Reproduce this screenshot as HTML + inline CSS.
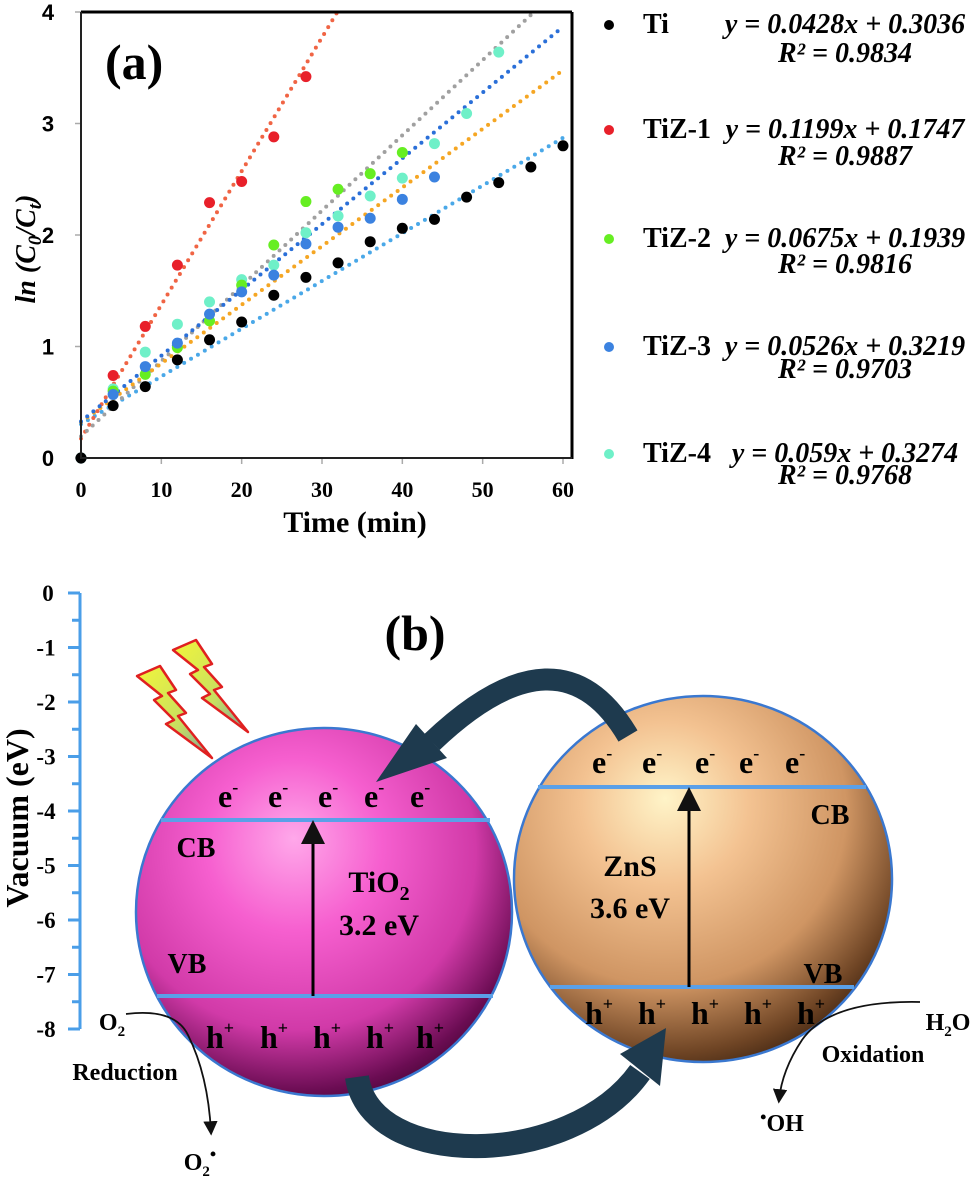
<!DOCTYPE html>
<html><head><meta charset="utf-8"><style>
html,body{margin:0;padding:0;background:#fff;}
svg{display:block;}
text{font-family:"Liberation Serif",serif;font-weight:bold;}
</style></head><body>
<svg id="fig" width="978" height="1177" viewBox="0 0 978 1177" xmlns="http://www.w3.org/2000/svg">
<defs>
<radialGradient id="pinkG" cx="0.42" cy="0.36" r="0.78" fx="0.42" fy="0.3">
<stop offset="0" stop-color="#ffa8ea"/><stop offset="0.3" stop-color="#f65fcf"/><stop offset="0.62" stop-color="#d13aa8"/><stop offset="0.82" stop-color="#6a0c52"/><stop offset="1" stop-color="#1a0012"/></radialGradient>
<radialGradient id="orG" cx="0.4" cy="0.33" r="0.8" fx="0.4" fy="0.28">
<stop offset="0" stop-color="#fff4c8"/><stop offset="0.28" stop-color="#f3c291"/><stop offset="0.6" stop-color="#cf9563"/><stop offset="0.82" stop-color="#6e4424"/><stop offset="1" stop-color="#150800"/></radialGradient>
<linearGradient id="boltG" x1="0" y1="0" x2="1" y2="1"><stop offset="0" stop-color="#f2f53a"/><stop offset="0.6" stop-color="#c8e060"/><stop offset="1" stop-color="#7aa0a0"/></linearGradient>
<marker id="ah" markerWidth="8" markerHeight="8" refX="6" refY="4" orient="auto"><path d="M0,0 L8,4 L0,8 z" fill="#111"/></marker>
</defs>

<!-- Panel (a) -->
<g id="panelA">
<rect x="81" y="12" width="491" height="446" fill="#fff" stroke="none"/>
<g id="yTicks"></g>
<g id="xTicks"></g>
<g id="trends"></g>
<g id="pts"></g>
<line x1="81" y1="12" x2="572" y2="12" stroke="#000" stroke-width="3"/>
<line x1="572" y1="12" x2="572" y2="459" stroke="#000" stroke-width="3"/>
<line x1="81" y1="12" x2="81" y2="459" stroke="#222" stroke-width="2"/>
<line x1="80" y1="458" x2="572" y2="458" stroke="#222" stroke-width="2"/>
<text x="105" y="79" font-size="50">(a)</text>
<text transform="translate(35,249) rotate(-90)" text-anchor="middle" font-size="28" font-style="italic">ln (C<tspan font-size="19" dy="6">0</tspan><tspan dy="-6">/C</tspan><tspan font-size="19" dy="6">t</tspan><tspan dy="-6">)</tspan></text>
<text x="355" y="532" text-anchor="middle" font-size="30">Time (min)</text>
<g id="legend"></g>
</g>

<!-- Panel (b) -->
<g id="panelB">
<g id="vacAxis"></g>
<text transform="translate(28,818) rotate(-90)" text-anchor="middle" font-size="32">Vacuum (eV)</text>
<text x="415" y="650" text-anchor="middle" font-size="50">(b)</text>

<g>
<polygon points="137,676 160,666 176,690 168,693 186,713 178,716 212,758 166,724 174,720 154,700 162,696" fill="url(#boltG)" stroke="#e02020" stroke-width="2.5" stroke-linejoin="round"/></g>
<g transform="translate(36,-26)">
<polygon points="137,676 160,666 176,690 168,693 186,713 178,716 212,758 166,724 174,720 154,700 162,696" fill="url(#boltG)" stroke="#e02020" stroke-width="2.5" stroke-linejoin="round"/></g>

<ellipse cx="703" cy="879" rx="189" ry="183" fill="url(#orG)" stroke="#3a78d0" stroke-width="2.5"/>
<ellipse cx="324" cy="912" rx="188" ry="184" fill="url(#pinkG)" stroke="#3a78d0" stroke-width="2.5"/>

<line x1="161" y1="820" x2="490" y2="820" stroke="#5aa0e8" stroke-width="4"/>
<line x1="157" y1="996" x2="493" y2="996" stroke="#5aa0e8" stroke-width="4"/>
<line x1="538" y1="787" x2="866" y2="787" stroke="#5aa0e8" stroke-width="4"/>
<line x1="550" y1="987" x2="854" y2="987" stroke="#5aa0e8" stroke-width="4"/>

<line x1="313" y1="996" x2="313" y2="826" stroke="#000" stroke-width="3" marker-end="url(#ah)"/>
<line x1="689" y1="987" x2="689" y2="793" stroke="#000" stroke-width="3" marker-end="url(#ah)"/>

<g font-size="32">
<text x="218" y="807">e<tspan font-size="18" dy="-14">-</tspan></text>
<text x="268" y="807">e<tspan font-size="18" dy="-14">-</tspan></text>
<text x="318" y="807">e<tspan font-size="18" dy="-14">-</tspan></text>
<text x="364" y="807">e<tspan font-size="18" dy="-14">-</tspan></text>
<text x="410" y="807">e<tspan font-size="18" dy="-14">-</tspan></text>
</g>
<g font-size="32">
<text x="592" y="773">e<tspan font-size="18" dy="-14">-</tspan></text>
<text x="642" y="773">e<tspan font-size="18" dy="-14">-</tspan></text>
<text x="695" y="773">e<tspan font-size="18" dy="-14">-</tspan></text>
<text x="739" y="773">e<tspan font-size="18" dy="-14">-</tspan></text>
<text x="785" y="773">e<tspan font-size="18" dy="-14">-</tspan></text>
</g>
<g font-size="32">
<text x="206" y="1048">h<tspan font-size="18" dy="-14">+</tspan></text>
<text x="260" y="1048">h<tspan font-size="18" dy="-14">+</tspan></text>
<text x="313" y="1048">h<tspan font-size="18" dy="-14">+</tspan></text>
<text x="366" y="1048">h<tspan font-size="18" dy="-14">+</tspan></text>
<text x="416" y="1048">h<tspan font-size="18" dy="-14">+</tspan></text>
</g>
<g font-size="32">
<text x="585" y="1024">h<tspan font-size="18" dy="-14">+</tspan></text>
<text x="638" y="1024">h<tspan font-size="18" dy="-14">+</tspan></text>
<text x="691" y="1024">h<tspan font-size="18" dy="-14">+</tspan></text>
<text x="744" y="1024">h<tspan font-size="18" dy="-14">+</tspan></text>
<text x="797" y="1024">h<tspan font-size="18" dy="-14">+</tspan></text>
</g>

<text x="196" y="857" text-anchor="middle" font-size="28">CB</text>
<text x="187" y="973" text-anchor="middle" font-size="28">VB</text>
<text x="379" y="892" text-anchor="middle" font-size="30">TiO<tspan font-size="20" dy="8">2</tspan></text>
<text x="379" y="935" text-anchor="middle" font-size="30">3.2 eV</text>
<text x="630" y="876" text-anchor="middle" font-size="30">ZnS</text>
<text x="630" y="918" text-anchor="middle" font-size="30">3.6 eV</text>
<text x="830" y="824" text-anchor="middle" font-size="28">CB</text>
<text x="823" y="983" text-anchor="middle" font-size="28">VB</text>

<g fill="#1e3a4e">
<path d="M 628 736 Q 560 620 432 742" fill="none" stroke="#1e3a4e" stroke-width="22"/>
<polygon points="447,758 416,724 376,782"/>
</g>
<g fill="#1e3a4e">
<path d="M 357 1077 C 370 1170 570 1170 640 1072" fill="none" stroke="#1e3a4e" stroke-width="24"/>
<polygon points="660,1086 620,1054 666,1028"/>
</g>

<text x="112" y="1030" text-anchor="middle" font-size="24">O<tspan font-size="15" dy="6">2</tspan></text>
<path d="M 126 1014 Q 175 1008 188 1035 Q 208 1075 211 1132" fill="none" stroke="#111" stroke-width="1.8" marker-end="url(#ah)"/>
<text x="125" y="1080" text-anchor="middle" font-size="24">Reduction</text>
<text x="200" y="1170" text-anchor="middle" font-size="24">O<tspan font-size="15" dy="6">2</tspan><tspan dy="-16" font-size="18">•</tspan></text>
<text x="948" y="1030" text-anchor="middle" font-size="24">H<tspan font-size="15" dy="6">2</tspan><tspan dy="-6">O</tspan></text>
<path d="M 920 1002 Q 830 1000 802 1040 Q 782 1070 779 1100" fill="none" stroke="#111" stroke-width="1.8" marker-end="url(#ah)"/>
<text x="873" y="1062" text-anchor="middle" font-size="24">Oxidation</text>
<text x="782" y="1131" text-anchor="middle" font-size="24"><tspan font-size="18" dy="-8">•</tspan><tspan dy="8">OH</tspan></text>
</g>

<script>
// ---------- Panel (a) data ----------
const times = [0,4,8,12,16,20,24,28,32,36,40,44,48,52,56,60];
const seriesNames = ["Ti","TiZ-1","TiZ-2","TiZ-3","TiZ-4"];
const tiValues   = [0,0.47,0.64,0.88,1.06,1.22,1.46,1.62,1.75,1.94,2.06,2.14,2.34,2.47,2.61,2.80];
const tiz1Values = [0,0.74,1.18,1.73,2.29,2.48,2.88,3.42];
const tiz2Values = [0,0.60,0.75,0.99,1.23,1.55,1.91,2.30,2.41,2.55,2.74];
const tiz3Values = [0,0.57,0.82,1.03,1.29,1.49,1.64,1.92,2.07,2.15,2.32,2.52];
const tiz4Values = [0,0.62,0.95,1.20,1.40,1.60,1.73,2.02,2.17,2.35,2.51,2.82,3.09,3.64];
const slopes     = [0.0428,0.1199,0.0675,0.0526,0.059];
const intercepts = [0.3036,0.1747,0.1939,0.3219,0.3274];
const r2Labels   = ["0.9834","0.9887","0.9816","0.9703","0.9768"];
const eqLabels   = ["y = 0.0428x + 0.3036","y = 0.1199x + 0.1747","y = 0.0675x + 0.1939","y = 0.0526x + 0.3219","y = 0.059x + 0.3274"];
const xTickLabels = [0,10,20,30,40,50,60];
const yTickLabels = [0,1,2,3,4];
const vacTickLabels = [0,-1,-2,-3,-4,-5,-6,-7,-8];

const NS = "http://www.w3.org/2000/svg";
const X0=81, X1=563, Y0=458, Y1=12;
function sx(t){ return X0 + (t/60)*(X1-X0); }
function sy(v){ return Y0 - (v/4)*(Y0-Y1); }
function mk(tag, attrs, parent){ const e=document.createElementNS(NS,tag); for(const k in attrs) e.setAttribute(k,attrs[k]); parent.appendChild(e); return e; }

const ptColors = ["#000000","#e8202a","#66ee22","#3b82e0","#6ff0c8"];
const lineColors = ["#4aa8e8","#f06444","#a0a0a0","#f5a623","#2a6fd8"];
const allVals = [tiValues,tiz1Values,tiz2Values,tiz3Values,tiz4Values];

const yT=document.getElementById('yTicks');
yTickLabels.forEach(v=>{
  const l=mk('line',{x1:X0-6,x2:X0,y1:sy(v),y2:sy(v),stroke:'#aaa','stroke-width':1.5},yT);
  
  
  const t=mk('text',{x:48,y:sy(v)+8,'text-anchor':'middle','font-size':22,style:'font-family:"Liberation Sans",sans-serif'},yT);
  t.textContent=v;
  
  
});
const xT=document.getElementById('xTicks');
xTickLabels.forEach(v=>{
  const l=mk('line',{x1:sx(v),x2:sx(v),y1:Y0,y2:Y0+6,stroke:'#aaa','stroke-width':1.5},xT);
  
  
  const t=mk('text',{x:sx(v),y:497,'text-anchor':'middle','font-size':22},xT);
  t.textContent=v;
  
  
});

const tr=document.getElementById('trends');
seriesNames.forEach((n,i)=>{
  let tEnd=60; const yEnd=slopes[i]*60+intercepts[i];
  if(yEnd>4) tEnd=(4-intercepts[i])/slopes[i];
  const l=mk('line',{x1:sx(0),y1:sy(intercepts[i]),x2:sx(tEnd),y2:sy(slopes[i]*tEnd+intercepts[i]),stroke:lineColors[i],'stroke-width':4,'stroke-linecap':'round','stroke-dasharray':'0 8'},tr);
  
  
});
const pg=document.getElementById('pts');
[4,1,2,3,0].forEach(i=>{
  allVals[i].forEach((v,j)=>{
    const c=mk('circle',{cx:sx(times[j]),cy:sy(v),r:5.5,fill:ptColors[i]},pg);
    
    
  });
});

const lg=document.getElementById('legend');
const rowY=[33,138,247,355,462];
const r2Y=[62,165,273,378,484];
seriesNames.forEach((n,i)=>{
  const d=mk('circle',{cx:609,cy:rowY[i]-8,r:5,fill:ptColors[i]},lg);
  
  
  const t=mk('text',{x:643,y:rowY[i],'font-size':28},lg);
  t.textContent=n;
  
  
  const e=mk('text',{x:845,y:rowY[i],'text-anchor':'middle','font-size':28,'font-style':'italic'},lg);
  e.textContent=eqLabels[i];
  
  
  const r=mk('text',{x:845,y:r2Y[i],'text-anchor':'middle','font-size':28,'font-style':'italic'},lg);
  r.textContent='R² = '+r2Labels[i];
  
  
});

// ---------- Panel (b) axis ----------
const va=document.getElementById('vacAxis');
const VY0=593, VUNIT=54.5, VX=80;
function vy(e){ return VY0 - e*VUNIT; }
const ax=mk('line',{x1:VX,x2:VX,y1:vy(0),y2:vy(-8),stroke:'#4a9ee8','stroke-width':3},va);


vacTickLabels.forEach(v=>{
  const l=mk('line',{x1:VX-12,x2:VX,y1:vy(v),y2:vy(v),stroke:'#4a9ee8','stroke-width':3},va);
  
  
  if(v>-8){
    const m=mk('line',{x1:VX-8,x2:VX,y1:vy(v-0.5),y2:vy(v-0.5),stroke:'#4a9ee8','stroke-width':3},va);
    
    
  }
  const t=mk('text',{x:v===0?48:46,y:vy(v)+8,'text-anchor':'middle','font-size':23},va);
  t.textContent=v;
  
  
});
</script>
</svg>
</body></html>
